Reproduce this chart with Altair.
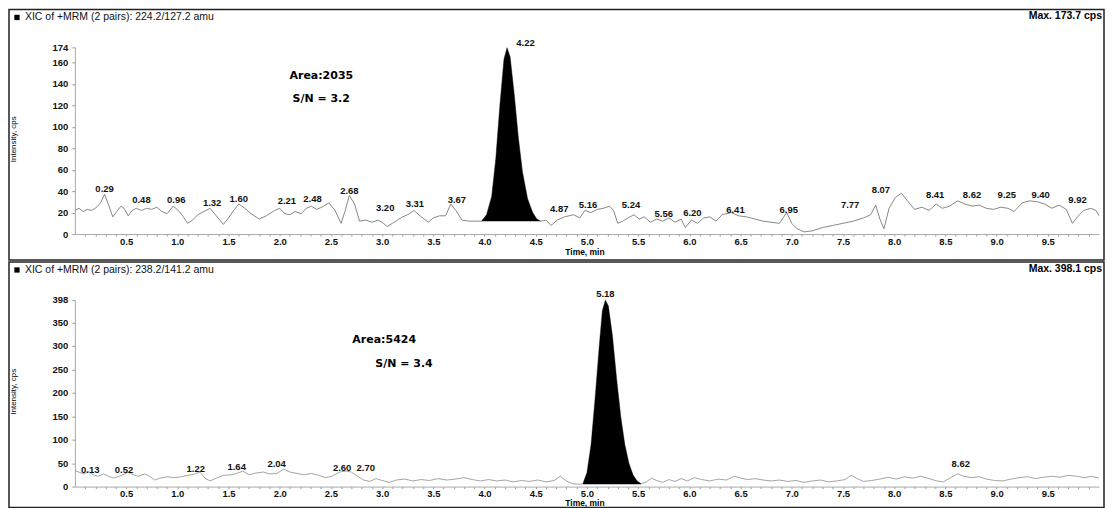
import altair as alt
import pandas as pd

# ---------------- data ----------------
top_time = [0.00, 0.04, 0.08, 0.12, 0.16, 0.20, 0.25, 0.29, 0.33, 0.37, 0.41, 0.45, 0.48, 0.52, 0.56,
            0.60, 0.65, 0.70, 0.75, 0.80, 0.85, 0.90, 0.96, 1.01, 1.06, 1.10, 1.15, 1.20, 1.26, 1.32,
            1.38, 1.45, 1.50, 1.55, 1.60, 1.66, 1.72, 1.80, 1.87, 1.95, 2.00, 2.05, 2.10, 2.15, 2.21,
            2.26, 2.31, 2.36, 2.41, 2.48, 2.54, 2.60, 2.64, 2.68, 2.73, 2.78, 2.84, 2.90, 2.96, 3.00,
            3.05, 3.10, 3.15, 3.20, 3.25, 3.31, 3.37, 3.45, 3.50, 3.56, 3.62, 3.67, 3.72, 3.78, 3.85,
            3.92, 3.97, 4.02, 4.07, 4.11, 4.15, 4.19, 4.22, 4.25, 4.29, 4.33, 4.37, 4.42, 4.47, 4.51,
            4.55, 4.60, 4.65, 4.71, 4.78, 4.87, 4.93, 4.98, 5.04, 5.10, 5.16, 5.22, 5.26, 5.30, 5.35,
            5.40, 5.46, 5.51, 5.56, 5.62, 5.68, 5.74, 5.80, 5.86, 5.92, 5.96, 6.02, 6.08, 6.14, 6.20,
            6.26, 6.32, 6.41, 6.48, 6.56, 6.64, 6.72, 6.80, 6.88, 6.95, 7.00, 7.05, 7.12, 7.20, 7.30,
            7.40, 7.50, 7.60, 7.70, 7.77, 7.82, 7.86, 7.90, 7.95, 8.01, 8.07, 8.13, 8.20, 8.27, 8.34,
            8.41, 8.47, 8.54, 8.62, 8.69, 8.76, 8.83, 8.90, 8.97, 9.04, 9.11, 9.17, 9.25, 9.32, 9.40,
            9.47, 9.54, 9.61, 9.68, 9.74, 9.79, 9.85, 9.92, 9.97, 10.00]
top_intensity = [22, 24, 21, 23, 22, 24, 29, 37, 27, 16, 21, 26, 24, 17, 22,
                 24, 22, 24, 23, 25, 21, 19, 26, 22, 16, 10, 13, 18, 21, 24,
                 17, 9, 15, 22, 28, 24, 19, 14, 17, 22, 24, 19, 18, 21, 19,
                 24, 26, 23, 25, 29, 22, 10, 22, 36, 28, 12, 13, 11, 13, 11,
                 7, 10, 13, 16, 18, 22, 17, 11, 15, 17, 17, 28, 22, 13, 12,
                 12, 12, 18, 35, 70, 120, 163, 173.7, 165, 130, 90, 58, 33, 20, 14,
                 12, 13, 8, 13, 16, 18, 15, 22, 20, 23, 24, 26, 22, 10, 12,
                 15, 18, 14, 16, 11, 14, 12, 15, 11, 14, 6, 13, 10, 15, 16,
                 12, 18, 20, 17, 16, 14, 12, 11, 10, 20, 10, 5, 2, 3, 6,
                 8, 10, 12, 15, 18, 27, 14, 5, 24, 34, 38, 31, 23, 25, 22,
                 28, 24, 26, 31, 28, 26, 27, 24, 23, 25, 24, 21, 29, 31, 30,
                 28, 24, 27, 23, 10, 16, 22, 24, 22, 17]

bottom_time = [0.00, 0.05, 0.09, 0.13, 0.18, 0.23, 0.28, 0.33, 0.38, 0.43, 0.48, 0.52, 0.57, 0.62, 0.68,
               0.73, 0.78, 0.83, 0.90, 0.97, 1.04, 1.10, 1.16, 1.22, 1.27, 1.32, 1.38, 1.45, 1.52, 1.58,
               1.64, 1.70, 1.77, 1.84, 1.90, 1.97, 2.04, 2.10, 2.17, 2.24, 2.31, 2.38, 2.45, 2.51, 2.56,
               2.60, 2.65, 2.70, 2.76, 2.82, 2.88, 2.94, 3.00, 3.07, 3.14, 3.22, 3.30, 3.38, 3.46, 3.55,
               3.63, 3.72, 3.80, 3.88, 3.96, 4.04, 4.12, 4.20, 4.28, 4.36, 4.44, 4.52, 4.60, 4.68, 4.74,
               4.80, 4.86, 4.92, 4.96, 5.00, 5.04, 5.08, 5.12, 5.15, 5.18, 5.21, 5.25, 5.29, 5.33, 5.37,
               5.41, 5.45, 5.49, 5.53, 5.58, 5.63, 5.68, 5.74, 5.80, 5.86, 5.92, 5.98, 6.05, 6.12, 6.20,
               6.28, 6.36, 6.44, 6.50, 6.57, 6.64, 6.72, 6.80, 6.88, 6.96, 7.04, 7.12, 7.20, 7.28, 7.36,
               7.44, 7.52, 7.58, 7.64, 7.70, 7.78, 7.86, 7.94, 8.02, 8.10, 8.18, 8.26, 8.34, 8.42, 8.48,
               8.55, 8.62, 8.68, 8.75, 8.83, 8.90, 8.98, 9.06, 9.14, 9.22, 9.30, 9.38, 9.46, 9.54, 9.62,
               9.70, 9.78, 9.86, 9.93, 10.00]
bottom_intensity = [34, 30, 27, 33, 25, 22, 27, 22, 18, 22, 26, 31, 25, 22, 27,
                    22, 14, 18, 21, 19, 21, 24, 26, 31, 18, 12, 18, 24, 25, 28,
                    33, 25, 29, 31, 27, 28, 37, 31, 28, 25, 28, 24, 19, 22, 28,
                    32, 33, 31, 22, 14, 11, 17, 13, 9, 14, 16, 12, 15, 13, 17,
                    14, 16, 19, 15, 12, 15, 12, 14, 10, 13, 11, 14, 10, 13, 22,
                    12, 6, 5, 6, 30, 90, 190, 300, 375, 398.1, 385, 320, 230, 150, 90,
                    50, 25, 12, 6, 10, 18, 13, 9, 15, 11, 17, 12, 19, 15, 12,
                    16, 14, 22, 18, 15, 17, 14, 12, 14, 11, 13, 9, 12, 14, 10,
                    12, 15, 24, 17, 11, 13, 16, 20, 16, 21, 18, 22, 17, 12, 10,
                    19, 27, 22, 19, 21, 16, 13, 12, 16, 19, 21, 17, 20, 22, 20,
                    24, 22, 19, 22, 18]

top_label_text = ["0.29", "0.48", "0.96", "1.32", "1.60", "2.21", "2.48", "2.68", "3.20", "3.31",
                  "3.67", "4.22", "4.87", "5.16", "5.24", "5.56", "6.20", "6.41", "6.95", "7.77",
                  "8.07", "8.41", "8.62", "9.25", "9.40", "9.92"]
top_label_time = [0.29, 0.65, 0.99, 1.34, 1.60, 2.07, 2.32, 2.68, 3.03, 3.32,
                  3.73, 4.40, 4.73, 5.01, 5.43, 5.75, 6.03, 6.45, 6.97, 7.57,
                  7.87, 8.40, 8.76, 9.10, 9.43, 9.79]
top_label_intensity = [42, 32, 32, 29, 33, 31, 33, 40, 24, 28,
                       32, 178, 23, 27, 27, 19, 20, 22, 22, 27,
                       41, 36, 36, 36, 36, 32]

bottom_label_text = ["0.13", "0.52", "1.22", "1.64", "2.04", "2.60", "2.70", "5.18", "8.62"]
bottom_label_time = [0.15, 0.48, 1.18, 1.58, 1.97, 2.61, 2.84, 5.18, 8.65]
bottom_label_intensity = [36, 36, 38, 42, 49, 40, 40, 411, 49]

x_tick_labels = [0.5, 1.0, 1.5, 2.0, 2.5, 3.0, 3.5, 4.0, 4.5, 5.0, 5.5, 6.0, 6.5, 7.0, 7.5, 8.0, 8.5, 9.0, 9.5]
x_minor_ticks = [round(0.1 * k, 1) for k in range(1, 100)]
top_y_ticks = [0, 20, 40, 60, 80, 100, 120, 140, 160, 174]
bottom_y_ticks = [0, 50, 100, 150, 200, 250, 300, 350, 398]
top_y_max = 174
bottom_y_max = 398
top_peak_window = [3.97, 4.55]
bottom_peak_window = [4.96, 5.53]
top_peak_base = 12
bottom_peak_base = 5

top_title = "XIC of +MRM (2 pairs): 224.2/127.2 amu"
bottom_title = "XIC of +MRM (2 pairs): 238.2/141.2 amu"
top_max = "Max. 173.7 cps"
bottom_max = "Max. 398.1 cps"
top_area = "Area:2035"
top_sn = "S/N = 3.2"
bottom_area = "Area:5424"
bottom_sn = "S/N = 3.4"
x_title = "Time, min"
y_title = "Intensity, cps"

# ---------------- chart ----------------
FONT = "Liberation Sans"
WIDE = "DejaVu Sans"
W, H = 1026, 187
ONE = pd.DataFrame({"k": [0]})

lab_list = ",".join(str(v) for v in x_tick_labels)
label_expr = ("indexof([" + lab_list + "], round(datum.value*10)/10) >= 0 ? "
              "format(datum.value, '.1f') : ''")


def txt(s, x, y, size, weight="normal", align="left", angle=0, color="black", font=FONT):
    return alt.Chart(ONE).mark_text(
        text=s, font=font, fontSize=size, fontWeight=weight, align=align,
        baseline="middle", color=color, angle=angle
    ).encode(x=alt.value(x), y=alt.value(y))


def panel(times, intens, window, pbase, yticks, ymax, ltxt, lt, li,
          title, maxtxt, area, sn, area_xy, sn_xy, frame_bottom, time_y, line_color):
    df = pd.DataFrame({"t": times, "i": intens})
    ldf = pd.DataFrame({"t": lt, "i": li, "s": ltxt})
    xscale = alt.Scale(domain=[0, 10], nice=False, zero=False)
    yscale = alt.Scale(domain=[0, ymax], nice=False, zero=True)
    xaxis = alt.Axis(values=x_minor_ticks, labelExpr=label_expr, title=None, tickSize=2,
                     tickColor="#999999", domainColor="#aaaaaa", labelFont=FONT,
                     labelFontSize=9.5, labelFontWeight="bold", labelColor="#111111",
                     labelPadding=0, labelOverlap=False, labelFlush=False, grid=False)
    yaxis = alt.Axis(values=yticks, format="d", title=None, tickSize=3, tickColor="#999999",
                     domainColor="#aaaaaa", labelFont=FONT, labelFontSize=9.5,
                     labelFontWeight="bold", labelColor="#111111", labelPadding=4,
                     labelOverlap=False, labelFlush=False, grid=False)
    xe = alt.X("t:Q", scale=xscale, axis=xaxis)
    ye = alt.Y("i:Q", scale=yscale, axis=yaxis)

    frame = alt.Chart(ONE).mark_rect(fillOpacity=0, stroke="#222222", strokeWidth=1.5).encode(
        x=alt.value(-66), x2=alt.value(1031), y=alt.value(-38), y2=alt.value(frame_bottom))
    line = alt.Chart(df).mark_line(color=line_color, strokeWidth=0.9).encode(x=xe, y=ye)
    fill = alt.Chart(df).transform_filter(
        f"datum.t >= {window[0]} && datum.t <= {window[1]}"
    ).transform_calculate(b=str(pbase)).mark_area(color="black").encode(
        x=xe, y=ye, y2=alt.Y2("b:Q"))
    labels = alt.Chart(ldf).mark_text(font=FONT, fontSize=9.5, fontWeight="bold",
                                      color="#111111", baseline="middle").encode(
        x=xe, y=ye, text="s:N")
    square = alt.Chart(ONE).mark_square(size=28, color="black", opacity=1).encode(
        x=alt.value(-58), y=alt.value(-30))
    layers = [frame, line, fill, labels, square,
              txt(title, -50, -30, 10.5, color="#111111"),
              txt(maxtxt, 1029, -31, 10.5, "bold", "right"),
              txt(area, area_xy[0], area_xy[1], 11, "bold", font=WIDE),
              txt(sn, sn_xy[0], sn_xy[1], 11, "bold", font=WIDE),
              txt(x_title, 511, time_y, 8.5, "bold", "center"),
              txt(y_title, -61, 92, 8, "normal", "center", 270)]
    return alt.layer(*layers).properties(width=W, height=H)


top = panel(top_time, top_intensity, top_peak_window, top_peak_base, top_y_ticks, top_y_max,
            top_label_text, top_label_time, top_label_intensity, top_title, top_max,
            top_area, top_sn, (215, 29), (218, 52), 213, 205, "#7a7a7a")
bottom = panel(bottom_time, bottom_intensity, bottom_peak_window, bottom_peak_base,
               bottom_y_ticks, bottom_y_max, bottom_label_text, bottom_label_time,
               bottom_label_intensity, bottom_title, bottom_max,
               bottom_area, bottom_sn, (278, 40), (301, 64), 208, 203, "#999999")

chart = alt.vconcat(top, bottom, spacing=0).properties(padding=0, background="white").configure_view(
    strokeWidth=0)

chart.save("out.html", embed_options={"renderer": "svg", "actions": False})
